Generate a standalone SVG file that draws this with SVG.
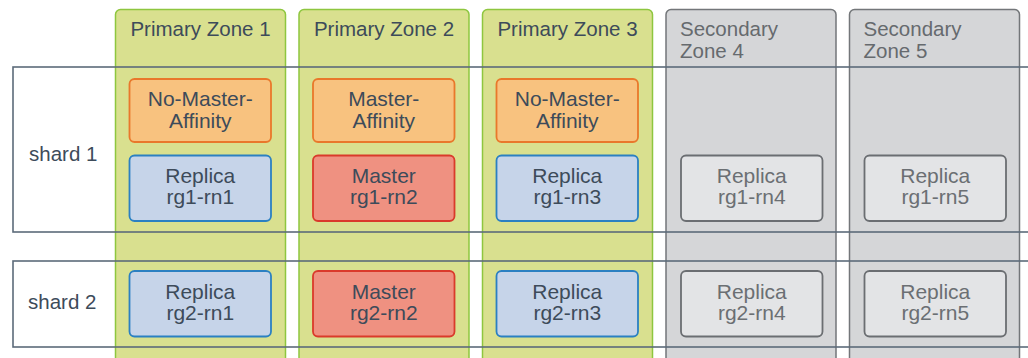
<svg xmlns="http://www.w3.org/2000/svg" width="1028" height="358" viewBox="0 0 1028 358">
<style>
text{font-family:"Liberation Sans",Arial,sans-serif;font-size:20.5px;fill:#3d4b5a}
.c{text-anchor:middle}
.n{font-size:21px}
.zp{fill:#d9e08f;stroke:#8ec63f;stroke-width:1.5}
.zs{fill:#d5d6d8;stroke:#737679;stroke-width:1.5}
.zs-t{fill:#666a6e}
.shard{fill:none;stroke:#5c6b7a;stroke-width:1.6}
.nma{fill:#f8c27f;stroke:#e9782b;stroke-width:1.8}
.rep{fill:#c6d4e9;stroke:#2b80c2;stroke-width:1.8}
.mas{fill:#ef9181;stroke:#da3a2b;stroke-width:1.8}
.sec{fill:#e3e4e6;stroke:#6b6e72;stroke-width:1.8}
.st{fill:#6b6f73}
</style>
<g id="zone1"><rect class="zp" x="115.5" y="9.5" width="170" height="360" rx="5"/><text class="c" x="200.5" y="36">Primary Zone 1</text></g>
<g id="zone2"><rect class="zp" x="299" y="9.5" width="170" height="360" rx="5"/><text class="c" x="384" y="36">Primary Zone 2</text></g>
<g id="zone3"><rect class="zp" x="482.5" y="9.5" width="170" height="360" rx="5"/><text class="c" x="567.5" y="36">Primary Zone 3</text></g>
<g id="zone4"><rect class="zs" x="666" y="9.5" width="170" height="360" rx="5"/><text class="zs-t" x="680" y="36">Secondary</text><text class="zs-t" x="680" y="58">Zone 4</text></g>
<g id="zone5"><rect class="zs" x="849.5" y="9.5" width="170" height="360" rx="5"/><text class="zs-t" x="863.5" y="36">Secondary</text><text class="zs-t" x="863.5" y="58">Zone 5</text></g>
<g id="shards">
<rect class="shard" x="13" y="67" width="1030" height="165"/>
<rect class="shard" x="13" y="261" width="1030" height="86"/>
<text x="29" y="161">shard 1</text>
<text x="28" y="309">shard 2</text>
</g>
<g id="nma1"><rect class="nma" x="129.5" y="79" width="141.5" height="63" rx="5"/><text class="c n" x="200.25" y="106">No-Master-</text><text class="c n" x="200.25" y="127.5">Affinity</text></g>
<g id="ma2"><rect class="nma" x="313" y="79" width="141.5" height="63" rx="5"/><text class="c n" x="383.75" y="106">Master-</text><text class="c n" x="383.75" y="127.5">Affinity</text></g>
<g id="nma3"><rect class="nma" x="496.5" y="79" width="141.5" height="63" rx="5"/><text class="c n" x="567.25" y="106">No-Master-</text><text class="c n" x="567.25" y="127.5">Affinity</text></g>
<g id="rg1-rn1"><rect class="rep" x="129.5" y="155.5" width="141.5" height="65.5" rx="5"/><text class="c n" x="200.25" y="183">Replica</text><text class="c n" x="200.25" y="204">rg1-rn1</text></g>
<g id="rg1-rn2"><rect class="mas" x="313" y="155.5" width="141.5" height="65.5" rx="5"/><text class="c n" x="383.75" y="183">Master</text><text class="c n" x="383.75" y="204">rg1-rn2</text></g>
<g id="rg1-rn3"><rect class="rep" x="496.5" y="155.5" width="141.5" height="65.5" rx="5"/><text class="c n" x="567.25" y="183">Replica</text><text class="c n" x="567.25" y="204">rg1-rn3</text></g>
<g id="rg1-rn4"><rect class="sec" x="681" y="155.5" width="141.5" height="65.5" rx="5"/><text class="c n st" x="751.75" y="183">Replica</text><text class="c n st" x="751.75" y="204">rg1-rn4</text></g>
<g id="rg1-rn5"><rect class="sec" x="864.5" y="155.5" width="141.5" height="65.5" rx="5"/><text class="c n st" x="935.25" y="183">Replica</text><text class="c n st" x="935.25" y="204">rg1-rn5</text></g>
<g id="rg2-rn1"><rect class="rep" x="129.5" y="271" width="141.5" height="65.5" rx="5"/><text class="c n" x="200.25" y="299">Replica</text><text class="c n" x="200.25" y="320">rg2-rn1</text></g>
<g id="rg2-rn2"><rect class="mas" x="313" y="271" width="141.5" height="65.5" rx="5"/><text class="c n" x="383.75" y="299">Master</text><text class="c n" x="383.75" y="320">rg2-rn2</text></g>
<g id="rg2-rn3"><rect class="rep" x="496.5" y="271" width="141.5" height="65.5" rx="5"/><text class="c n" x="567.25" y="299">Replica</text><text class="c n" x="567.25" y="320">rg2-rn3</text></g>
<g id="rg2-rn4"><rect class="sec" x="681" y="271" width="141.5" height="65.5" rx="5"/><text class="c n st" x="751.75" y="299">Replica</text><text class="c n st" x="751.75" y="320">rg2-rn4</text></g>
<g id="rg2-rn5"><rect class="sec" x="864.5" y="271" width="141.5" height="65.5" rx="5"/><text class="c n st" x="935.25" y="299">Replica</text><text class="c n st" x="935.25" y="320">rg2-rn5</text></g>
<g id="connectors"/>
</svg>
